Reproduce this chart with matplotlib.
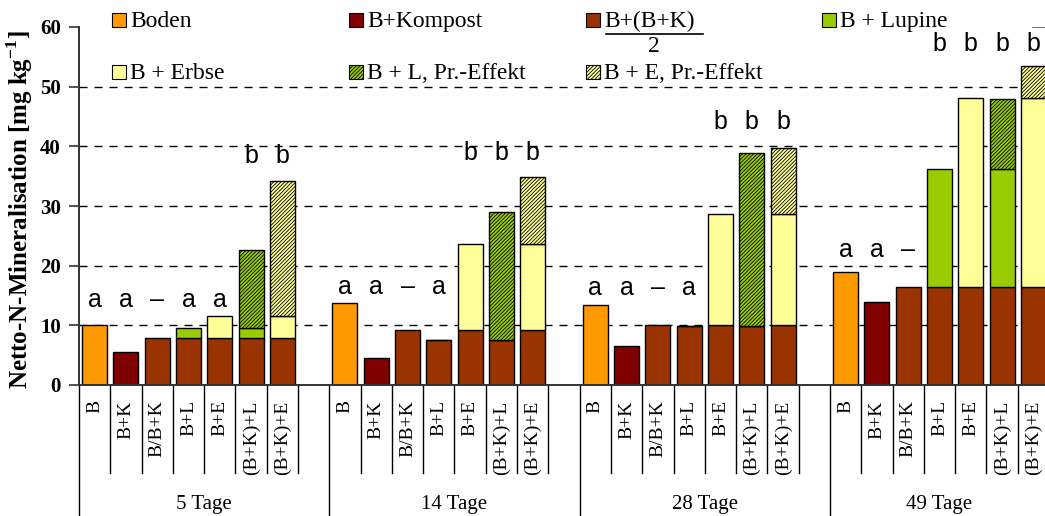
import matplotlib
matplotlib.use("Agg")
import matplotlib.pyplot as plt
from matplotlib.lines import Line2D
from matplotlib.patches import Rectangle

plt.rcParams["font.family"] = ["Liberation Serif", "DejaVu Serif"]
plt.rcParams["mathtext.fontset"] = "custom"
plt.rcParams["mathtext.rm"] = "Liberation Serif"
plt.rcParams["mathtext.bf"] = "Liberation Serif:bold"
plt.rcParams["hatch.linewidth"] = 0.6

DAYS = ["5 Tage", "14 Tage", "28 Tage", "49 Tage"]
TREATMENTS = ["B", "B+K", "B/B+K", "B+L", "B+E", "(B+K)+L", "(B+K)+E"]

# values, mg N per kg soil (cumulative bar tops)
BODEN = [10.0, 13.7, 13.4, 18.9]
KOMPOST = [5.6, 4.6, 6.5, 13.9]
MITTEL = [7.8, 9.15, 10.0, 16.4]
L_BASE = [7.8, 7.5, 9.9, 16.4]
L_TOTAL = [9.6, 7.5, 9.9, 36.2]
L_EFFECT_TOTAL = [22.6, 29.0, 38.8, 47.9]
E_BASE = [7.8, 9.15, 10.0, 16.4]
E_TOTAL = [11.6, 23.6, 28.7, 48.1]
E_EFFECT_TOTAL = [34.2, 34.8, 39.8, 53.5]

LETTERS = [
    ["a", "a", "\u2013", "a", "a", "b", "b"],
    ["a", "a", "\u2013", "a", "b", "b", "b"],
    ["a", "a", "\u2013", "a", "b", "b", "b"],
    ["a", "a", "\u2013", "b", "b", "b", "b"],
]
LETTER_Y_A = [14.2, 16.5, 16.3, 22.6]
LETTER_Y_B = [38.4, 38.8, 44.1, 57.1]

ORANGE = "#FF9900"
DARKRED = "#800000"
BROWN = "#993300"
GREEN = "#99CC00"
YELLOW = "#FFFF99"
HATCH = "/////////"

W, H = 1045, 516
SLOTS_PER_GROUP = 8
fig = plt.figure(figsize=(W / 100, H / 100), dpi=100)
ax = fig.add_axes([79 / W, 131 / H, 970 / W, 358 / H])


def slot(g, i):
    return SLOTS_PER_GROUP * g + i + 0.5


bar_kw = dict(width=0.8, edgecolor="black", linewidth=1.0, zorder=2)
groups = range(len(DAYS))

# base segments
for i, (values, color) in enumerate(
    [(BODEN, ORANGE), (KOMPOST, DARKRED), (MITTEL, BROWN),
     (L_BASE, BROWN), (E_BASE, BROWN), (L_BASE, BROWN), (E_BASE, BROWN)]
):
    ax.bar([slot(g, i) for g in groups], values, color=color, **bar_kw)

# legume segments
for i in (3, 5):
    ax.bar([slot(g, i) for g in groups],
           [t - b for t, b in zip(L_TOTAL, L_BASE)], bottom=L_BASE,
           color=GREEN, **bar_kw)
for i in (4, 6):
    ax.bar([slot(g, i) for g in groups],
           [t - b for t, b in zip(E_TOTAL, E_BASE)], bottom=E_BASE,
           color=YELLOW, **bar_kw)

# priming effect segments
ax.bar([slot(g, 5) for g in groups],
       [t - b for t, b in zip(L_EFFECT_TOTAL, L_TOTAL)], bottom=L_TOTAL,
       color=GREEN, hatch=HATCH, **bar_kw)
ax.bar([slot(g, 6) for g in groups],
       [t - b for t, b in zip(E_EFFECT_TOTAL, E_TOTAL)], bottom=E_TOTAL,
       color=YELLOW, hatch=HATCH, **bar_kw)

# significance letters
for g in groups:
    for i, letter in enumerate(LETTERS[g]):
        y = LETTER_Y_B[g] if letter == "b" else LETTER_Y_A[g]
        ax.text(slot(g, i), y, letter, ha="center", va="center",
                fontsize=18, family="Liberation Sans", zorder=3)

# dashed grid
for v in range(10, 51, 10):
    ax.axhline(v, color="black", lw=1, dashes=(5.8, 5), zorder=0.5)
ax.axhline(60, xmin=0.983, color="#555555", lw=1.2, zorder=0.5)

ax.set_xlim(0, 31)
ax.set_ylim(0, 60)
ax.spines[["top", "right"]].set_visible(False)
for s in ("left", "bottom"):
    ax.spines[s].set_color("#333333")
    ax.spines[s].set_linewidth(1.4)

ax.set_yticks(range(0, 61, 10))
ax.set_yticklabels([str(v) for v in range(0, 61, 10)], fontsize=15,
                   fontweight="bold")
ax.tick_params(axis="y", direction="out", length=7, width=1.2, pad=6,
               color="#333333")

xpos = [slot(g, i) for g in groups for i in range(len(TREATMENTS))]
ax.set_xticks(xpos, TREATMENTS * len(DAYS), rotation=90, fontsize=14)
ax.tick_params(axis="x", length=0, pad=11)

# category separators below the axis
trans = ax.get_xaxis_transform()
for g in groups:
    start = SLOTS_PER_GROUP * g
    ax.plot([start, start], [0, -0.37], transform=trans, clip_on=False,
            color="black", lw=1)
    for k in range(1, SLOTS_PER_GROUP):
        ax.plot([start + k, start + k], [0, -0.246], transform=trans,
                clip_on=False, color="black", lw=1)
    n = SLOTS_PER_GROUP if g < len(DAYS) - 1 else len(TREATMENTS)
    ax.text(start + n / 2, -0.335, DAYS[g], transform=trans, ha="center",
            va="center", fontsize=15)

ax.set_ylabel("Netto-N-Mineralisation [mg kg$^{\\mathbf{-1}}$]",
              fontsize=18, fontweight="bold")
ax.yaxis.set_label_coords(-0.045, 0.49)

# legend drawn by hand (four columns, two rows)
legend_items = [
    ("Boden", ORANGE, None), ("B+Kompost", DARKRED, None),
    ("B+(B+K)", BROWN, None), ("B + Lupine", GREEN, None),
    ("B + Erbse", YELLOW, None), ("B + L, Pr.-Effekt", GREEN, HATCH),
    ("B + E, Pr.-Effekt", YELLOW, HATCH),
]
col_x = [112, 349, 586, 822]
row_y = [20, 72]
for n, (label, color, hatch) in enumerate(legend_items):
    x0, y0 = col_x[n % 4], row_y[n // 4]
    fig.add_artist(Rectangle((x0 / W, 1 - (y0 + 7) / H), 14 / W, 14 / H,
                             transform=fig.transFigure, facecolor=color,
                             edgecolor="black", lw=0.8, hatch=hatch))
    fig.text((x0 + 18) / W, 1 - (y0 + 7) / H, label, ha="left",
             va="baseline", fontsize=17)
fig.add_artist(Line2D([606 / W, 703 / W], [1 - 34 / H, 1 - 34 / H],
                      transform=fig.transFigure, color="black", lw=1.2))
fig.text(654 / W, 1 - 46 / H, "2", ha="center", va="center", fontsize=17)

fig.savefig("out.png", dpi=100)
